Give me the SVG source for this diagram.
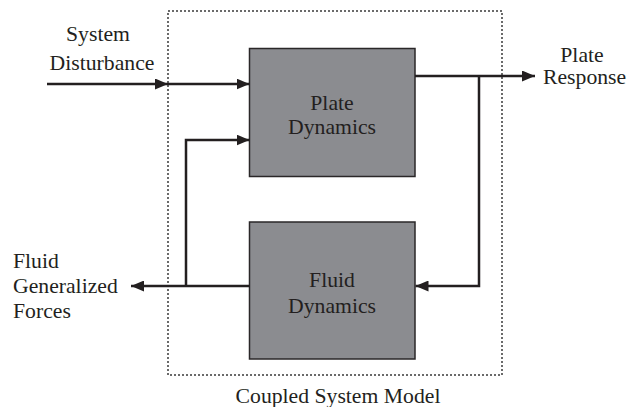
<svg xmlns="http://www.w3.org/2000/svg" width="627" height="407" viewBox="0 0 627 407">
  <defs>
    <marker id="arrow" markerWidth="13" markerHeight="11" refX="13" refY="5.5" orient="auto" markerUnits="userSpaceOnUse">
      <path d="M0,0 L13,5.5 L0,11 Z" fill="#231f20"/>
    </marker>
  </defs>
  <style>
    text { font-family: "Liberation Serif", "Times New Roman", serif; font-size: 21.7px; fill: #231f20; }
    .block { fill: #8b8c90; stroke: #2a2728; stroke-width: 1.5; }
    .wire { fill: none; stroke: #231f20; stroke-width: 2.5; }
    .frame { fill: none; stroke: #3a3a3a; stroke-width: 1.5; stroke-dasharray: 2 2; }
  </style>
  <rect width="627" height="407" fill="#ffffff"/>

  <!-- coupled model boundary -->
  <g id="coupled-system">
    <rect class="frame" x="168" y="11" width="334" height="364"/>
    <text x="338" y="403" text-anchor="middle">Coupled System Model</text>
  </g>

  <g id="plate-dynamics">
    <rect class="block" x="249.5" y="48.5" width="165.5" height="128"/>
    <text x="332" y="110" text-anchor="middle">Plate</text>
    <text x="332" y="134" text-anchor="middle">Dynamics</text>
  </g>

  <g id="fluid-dynamics">
    <rect class="block" x="249.5" y="222" width="165.5" height="137"/>
    <text x="332" y="287" text-anchor="middle">Fluid</text>
    <text x="332" y="313" text-anchor="middle">Dynamics</text>
  </g>

  <g id="labels">
    <text x="98" y="41" text-anchor="middle">System</text>
    <text x="102" y="70" text-anchor="middle">Disturbance</text>
    <text x="582" y="62" text-anchor="middle">Plate</text>
    <text x="543" y="84">Response</text>
    <text x="13" y="268">Fluid</text>
    <text x="13" y="293">Generalized</text>
    <text x="13" y="318">Forces</text>
  </g>

  <g id="connectors">
    <!-- disturbance input -->
    <line class="wire" x1="47" y1="84" x2="168" y2="84" marker-end="url(#arrow)"/>
    <line class="wire" x1="168" y1="84" x2="249.5" y2="84" marker-end="url(#arrow)"/>
    <!-- fluid forces fed back to plate -->
    <polyline class="wire" points="186,286 186,140 249.5,140" marker-end="url(#arrow)"/>
    <!-- fluid forces output -->
    <line class="wire" x1="249.5" y1="286" x2="131" y2="286" marker-end="url(#arrow)"/>
    <!-- plate response output -->
    <line class="wire" x1="415" y1="76" x2="535" y2="76" marker-end="url(#arrow)"/>
    <!-- plate response into fluid -->
    <polyline class="wire" points="479,76 479,286 415.5,286" marker-end="url(#arrow)"/>
  </g>
</svg>
